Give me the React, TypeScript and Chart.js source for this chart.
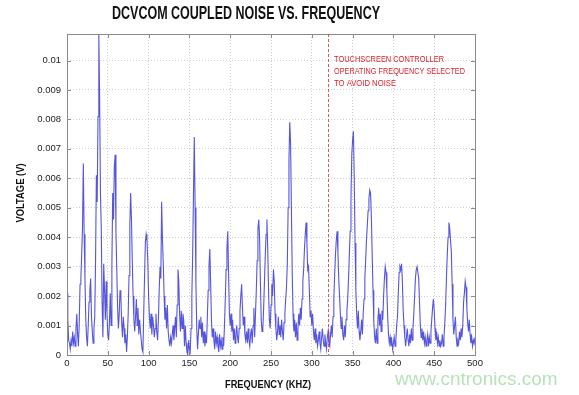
import React, { useEffect, useRef } from "react";
import { Chart, registerables } from "chart.js";

Chart.register(...registerables);

const TITLE = "DCVCOM COUPLED NOISE VS. FREQUENCY";
const X_TITLE = "FREQUENCY (KHZ)";
const Y_TITLE = "VOLTAGE (V)";
const NOTE_LINES = ["TOUCHSCREEN CONTROLLER", "OPERATING FREQUENCY SELECTED", "TO AVOID NOISE"];
const MARKER_FREQ = 320;
const WATERMARK = "www.cntronics.com";

const X_TICKS = [0, 50, 100, 150, 200, 250, 300, 350, 400, 450, 500];
const Y_TICKS = [0, 0.001, 0.002, 0.003, 0.004, 0.005, 0.006, 0.007, 0.008, 0.009, 0.01];
const X_MIN = 0;
const X_MAX = 500;
const Y_MAX = 0.0109;

// spectrum sampled every 1 kHz starting at 0 kHz, values in mV
const FREQ_START = 0;
const FREQ_STEP = 1;
const NOISE_MV = [
  2.1, 1.2, 0.5, 0.4, 0.2, 0.5, 0.3, 0.8, 0.4, 0.6,
  0.3, 0.9, 1.4, 0.7, 0.3, 1.1, 2.4, 2.6, 3.4, 4.3,
  6.5, 4.1, 2.6, 1.2, 0.6, 0.3, 1.0, 1.8, 2.2, 2.6,
  1.3, 0.8, 0.4, 0.9, 1.3, 3.2, 6.1, 5.2, 8.1, 10.9,
  8.7, 5.5, 4.3, 1.8, 0.6, 3.1, 2.2, 1.2, 2.5, 1.4,
  0.7, 0.5, 1.1, 2.1, 1.0, 3.0, 5.5, 4.6, 6.4, 6.8,
  4.2, 2.9, 1.6, 0.9, 1.4, 2.2, 2.0, 1.1, 0.6, 1.3,
  0.9, 0.4, 0.7, 0.1, 0.6, 1.4, 2.7, 4.4, 5.5, 4.6,
  3.2, 2.0, 1.2, 0.8, 1.3, 1.9, 1.0, 1.6, 0.7, 1.2,
  0.8, 0.5, 0.2, 0.1, 1.4, 2.6, 3.8, 4.1, 3.9, 3.2,
  2.0, 1.3, 0.9, 1.4, 0.7, 1.3, 1.0, 0.6, 0.9, 1.4,
  0.8, 0.5, 1.2, 2.2, 3.0, 2.6, 5.2, 3.9, 3.1, 2.0,
  1.2, 1.6, 0.9, 1.7, 0.8, 0.5, 0.3, 0.6, 0.4, 0.7,
  1.0, 0.5, 0.9, 1.3, 0.6, 1.7, 2.9, 2.5, 1.4, 0.8,
  1.5, 0.9, 1.4, 1.2, 0.3, 1.0, 0.4, 0.1, 0.0, 0.5,
  0.2, 0.1, 0.9, 2.0, 3.4, 5.5, 7.4, 5.0, 2.4, 0.9,
  0.2, 0.7, 1.2, 0.9, 1.3, 0.6, 1.1, 0.4, 0.8, 0.3,
  0.6, 0.4, 1.3, 2.2, 3.0, 3.6, 2.5, 1.2, 0.6, 0.9,
  0.5, 0.2, 0.8, 0.4, 0.6, 0.3, 0.1, 0.7, 0.3, 0.5,
  0.2, 0.6, 0.3, 1.0, 1.9, 2.9, 3.6, 4.2, 2.8, 1.4,
  1.0, 1.4, 0.8, 1.2, 0.5, 0.9, 0.4, 0.7, 1.0, 0.6,
  0.4, 0.9, 1.5, 2.0, 2.4, 1.6, 1.0, 1.3, 0.7, 0.5,
  0.8, 0.4, 0.9, 0.5, 0.3, 0.7, 0.9, 0.4, 1.0, 1.6,
  0.6, 1.4, 2.2, 3.2, 4.3, 4.6, 4.0, 2.5, 1.2, 0.8,
  0.9, 1.6, 2.5, 3.4, 4.1, 4.6, 3.6, 2.2, 1.2, 0.9,
  1.7, 2.4, 2.0, 2.9, 2.5, 1.4, 0.9, 0.5, 0.8, 1.3,
  0.7, 1.0, 0.6, 1.2, 0.8, 0.5, 1.1, 1.4, 1.9, 2.3,
  3.1, 5.0, 6.6, 7.9, 7.2, 5.0, 2.8, 1.4, 0.8, 1.2,
  0.6, 1.1, 0.5, 0.9, 1.4, 1.0, 1.6, 1.2, 1.9, 2.5,
  2.9, 3.6, 4.1, 4.5, 3.8, 2.9, 3.0, 2.2, 1.3, 1.5,
  1.0, 1.4, 0.8, 0.5, 0.9, 0.4, 0.7, 0.3, 0.5, 0.8,
  0.4, 0.2, 0.6, 0.9, 0.5, 0.3, 0.7, 0.4, 0.2, 0.6,
  0.8, 0.4, 0.3, 0.7, 1.0, 0.6, 1.3, 1.9, 2.7, 3.4,
  3.9, 4.2, 3.5, 2.6, 2.0, 1.4, 0.9, 1.3, 0.7, 0.5,
  1.0, 0.6, 1.2, 1.5, 1.9, 2.6, 3.4, 4.2, 5.3, 6.8,
  7.3, 7.6, 6.0, 3.8, 2.2, 1.4, 0.9, 1.5, 0.8, 0.5,
  0.8, 1.2, 0.7, 1.4, 1.9, 2.6, 3.2, 3.9, 4.4, 4.9,
  5.3, 5.6, 5.5, 4.7, 3.4, 2.2, 1.1, 0.6, 0.4, 0.9,
  0.4, 1.2, 1.6, 1.0, 1.4, 0.8, 1.5, 1.2, 2.0, 2.6,
  3.0, 2.8, 2.2, 1.3, 0.7, 0.4, 0.6, 0.3, 0.5, 0.2,
  0.4, 0.6, 0.3, 0.5, 1.0, 1.3, 2.1, 2.8, 3.0, 2.9,
  3.1, 2.5, 1.5, 1.0, 0.6, 0.3, 0.6, 0.9, 0.5, 0.3,
  0.7, 0.4, 0.9, 0.5, 0.9, 1.4, 2.0, 2.6, 2.9, 3.0,
  3.0, 2.6, 1.8, 1.0, 0.6, 0.9, 0.5, 0.8, 0.4, 0.6,
  0.3, 0.5, 0.7, 0.3, 0.6, 0.4, 0.8, 1.2, 1.6, 1.9,
  1.5, 0.9, 0.5, 0.8, 0.4, 0.6, 0.3, 0.5, 0.3, 0.4,
  0.7, 0.3, 0.6, 1.1, 1.7, 2.6, 3.4, 4.0, 4.5, 4.3,
  3.9, 3.5, 2.4, 1.2, 0.7, 1.0, 1.3, 0.6, 0.3, 0.5,
  0.4, 0.8, 0.5, 0.9, 0.6, 1.0, 1.8, 2.1, 2.5, 2.3,
  1.6, 1.1, 0.8, 1.2, 0.7, 0.4, 0.6, 0.3, 0.5, 0.4,
  0.6,
];

const W = 579;
const H = 395;

const overlayPlugin = {
  id: "overlay",
  afterDraw(chart: any) {
    const { ctx, chartArea: a, scales } = chart;
    const xs = scales.x;
    const ys = scales.y;
    ctx.save();

    // box
    ctx.strokeStyle = "#8a8a8a";
    ctx.lineWidth = 1;
    ctx.setLineDash([]);
    ctx.strokeRect(Math.round(a.left) + 0.5, Math.round(a.top) + 0.5, Math.round(a.right - a.left), Math.round(a.bottom - a.top));

    // inward ticks on all sides
    ctx.beginPath();
    for (const v of X_TICKS) {
      const px = Math.round(xs.getPixelForValue(v)) + 0.5;
      ctx.moveTo(px, a.bottom);
      ctx.lineTo(px, a.bottom - 4);
      ctx.moveTo(px, a.top);
      ctx.lineTo(px, a.top + 4);
    }
    for (const v of Y_TICKS) {
      const py = Math.round(ys.getPixelForValue(v)) + 0.5;
      ctx.moveTo(a.left, py);
      ctx.lineTo(a.left + 4, py);
      ctx.moveTo(a.right, py);
      ctx.lineTo(a.right - 4, py);
    }
    ctx.stroke();

    // red dashed marker
    const mx = Math.round(xs.getPixelForValue(MARKER_FREQ)) + 0.5;
    ctx.strokeStyle = "rgba(215,60,60,0.85)";
    ctx.lineWidth = 1;
    ctx.setLineDash([3, 2]);
    ctx.beginPath();
    ctx.moveTo(mx, a.top);
    ctx.lineTo(mx, a.bottom);
    ctx.stroke();
    ctx.setLineDash([]);

    // annotation text
    ctx.fillStyle = "#e0202a";
    ctx.font = "8.5px 'Liberation Sans Narrow', 'Liberation Sans', sans-serif";
    ctx.textAlign = "left";
    ctx.textBaseline = "middle";
    const noteWidths = [110, 131, 62];
    NOTE_LINES.forEach((t, i) => {
      ctx.fillText(t, mx + 5.5, a.top + 26 + i * 11.7, noteWidths[i]);
    });

    // title
    ctx.fillStyle = "#111";
    ctx.textAlign = "center";
    ctx.textBaseline = "middle";
    ctx.font = "bold 18px 'Liberation Sans', sans-serif";
    ctx.fillText(TITLE, 246, 14.5, 268);

    // x title
    ctx.font = "bold 11px 'Liberation Sans', sans-serif";
    ctx.fillText(X_TITLE, 268, 385, 86);

    // y title
    ctx.save();
    ctx.translate(21, 193);
    ctx.rotate(-Math.PI / 2);
    ctx.fillText(Y_TITLE, 0, 0, 59);
    ctx.restore();

    // watermark
    ctx.fillStyle = "rgba(160,215,160,0.75)";
    ctx.font = "19px 'Liberation Sans', sans-serif";
    ctx.textAlign = "left";
    ctx.fillText(WATERMARK, 395, 380, 164);

    ctx.restore();
  },
};

export default function App() {
  const ref = useRef<HTMLCanvasElement | null>(null);

  useEffect(() => {
    document.body.style.margin = "0";
    const canvas = ref.current;
    if (!canvas) return;
    const points = NOISE_MV.map((mv, i) => ({ x: FREQ_START + i * FREQ_STEP, y: mv / 1000 }));
    const chart = new Chart(canvas, {
      type: "line",
      data: {
        datasets: [
          {
            data: points,
            borderColor: "rgba(55,55,215,0.85)",
            borderWidth: 1.1,
            pointRadius: 0,
            tension: 0,
            fill: false,
          },
        ],
      },
      options: {
        animation: false,
        responsive: false,
        maintainAspectRatio: false,
        devicePixelRatio: 1,
        layout: { padding: { top: 34, right: 104, left: 0, bottom: 0 } },
        plugins: {
          legend: { display: false },
          title: { display: false },
          tooltip: { enabled: false },
        },
        scales: {
          x: {
            type: "linear",
            min: X_MIN,
            max: X_MAX,
            afterFit: (s: any) => {
              s.height = 40;
            },
            afterBuildTicks: (s: any) => {
              s.ticks = X_TICKS.map((v) => ({ value: v }));
            },
            ticks: {
              color: "#222",
              font: { family: "'Liberation Sans', Arial, sans-serif", size: 9.5 },
              padding: 3,
              maxRotation: 0,
              autoSkip: false,
              callback: (v: any) => String(v),
            },
            grid: { color: "#cfcfcf", lineWidth: 1, drawTicks: false },
            border: { display: false, dash: [1, 2] },
          },
          y: {
            type: "linear",
            min: 0,
            max: Y_MAX,
            afterFit: (s: any) => {
              s.width = 67;
            },
            afterBuildTicks: (s: any) => {
              s.ticks = Y_TICKS.map((v) => ({ value: v }));
            },
            ticks: {
              color: "#222",
              font: { family: "'Liberation Sans', Arial, sans-serif", size: 9.5 },
              padding: 6,
              autoSkip: false,
              callback: (v: any) => String(+Number(v).toFixed(3)),
            },
            grid: { color: "#cfcfcf", lineWidth: 1, drawTicks: false },
            border: { display: false, dash: [1, 2] },
          },
        },
      },
      plugins: [overlayPlugin],
    });
    return () => chart.destroy();
  }, []);

  return (
    <div style={{ position: "absolute", left: 0, top: 0, width: W, height: H, background: "#fff" }}>
      <canvas ref={ref} width={W} height={H} style={{ width: W, height: H, display: "block" }} />
    </div>
  );
}
